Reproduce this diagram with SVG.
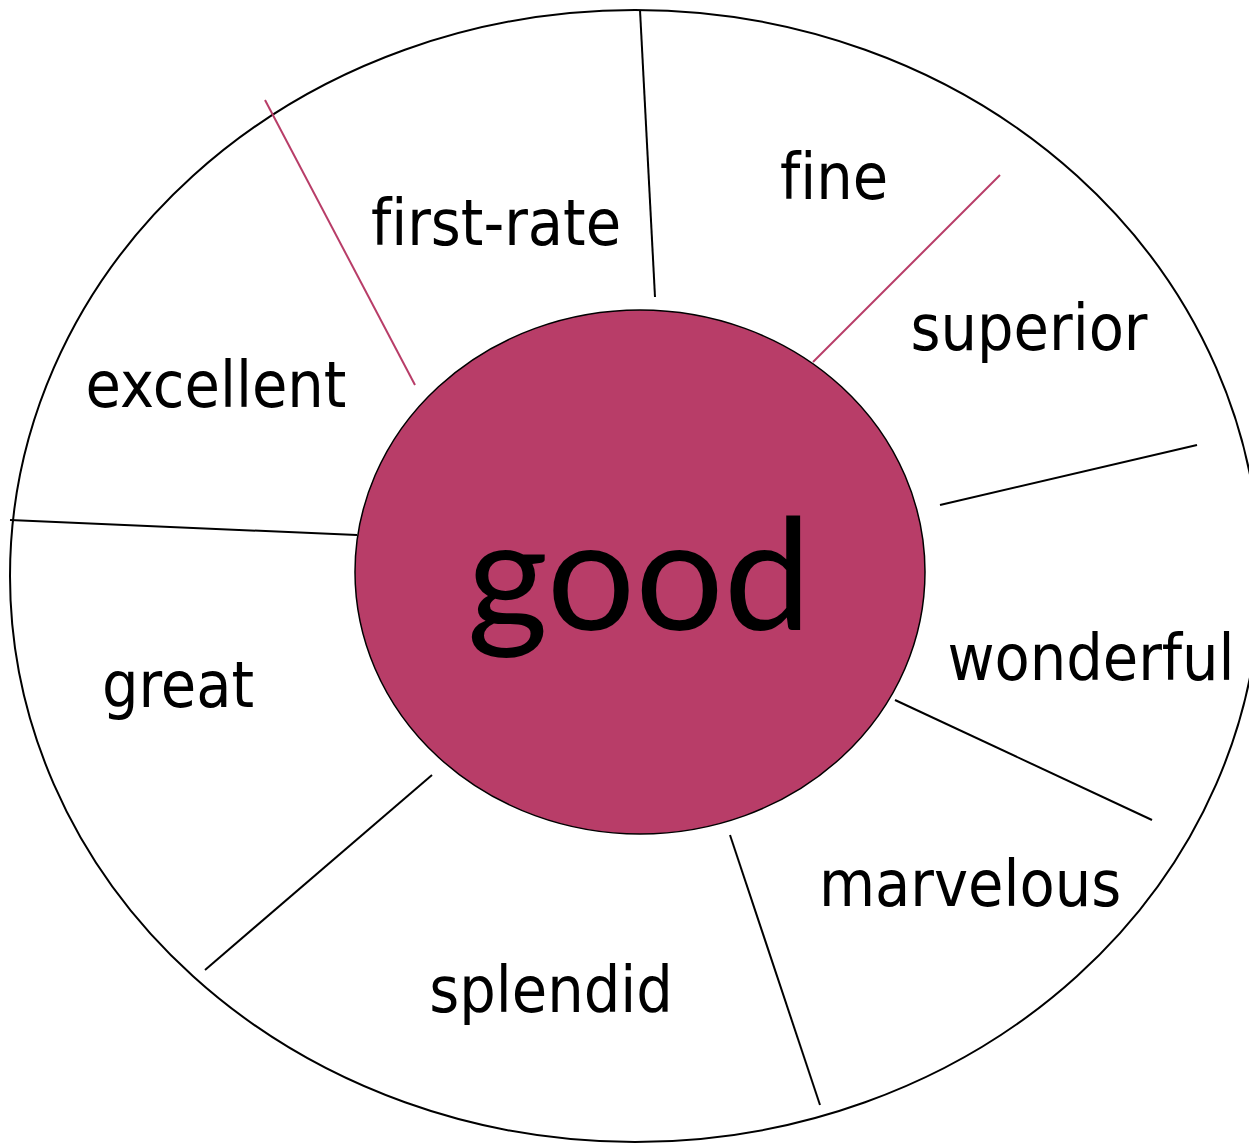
<svg xmlns="http://www.w3.org/2000/svg" width="1249" height="1143" viewBox="0 0 1249 1143">
<style>
.lbl{font-family:"DejaVu Sans Condensed","DejaVu Sans","Liberation Sans",sans-serif;font-stretch:condensed;font-size:64px;fill:#000;text-anchor:middle;font-variant-ligatures:none}
.c{stroke:#000;stroke-width:2;fill:none}
.r{stroke:#b83d68;stroke-width:2;fill:none}
</style>
<rect width="1249" height="1143" fill="#fff"/>
<g id="outer"><ellipse cx="635" cy="576" rx="625" ry="566" fill="#fff" stroke="#000" stroke-width="2"/></g>
<g id="connectors">
<line class="c" x1="640" y1="10" x2="655" y2="297"/>
<line class="r" x1="265" y1="100" x2="415" y2="385"/>
<line class="r" x1="1000" y1="175" x2="813" y2="362"/>
<line class="c" x1="1197" y1="445" x2="940" y2="505"/>
<line class="c" x1="10" y1="520" x2="357" y2="535"/>
<line class="c" x1="895" y1="700" x2="1152" y2="820"/>
<line class="c" x1="432" y1="775" x2="205" y2="970"/>
<line class="c" x1="730" y1="835" x2="820" y2="1105"/>
</g>
<g id="center"><ellipse cx="640" cy="572" rx="285" ry="262" fill="#b83d68" stroke="#000" stroke-width="1.5"/>
<text x="639" y="630" style="font-family:Lato,sans-serif;font-size:156px;text-anchor:middle">good</text></g>
<g id="first-rate"><text class="lbl" x="496" y="245">first-rate</text></g>
<g id="fine"><text class="lbl" x="834" y="199">fine</text></g>
<g id="superior"><text class="lbl" x="1029" y="350">superior</text></g>
<g id="excellent"><text class="lbl" x="216" y="407">excellent</text></g>
<g id="wonderful"><text class="lbl" x="1091" y="680">wonderful</text></g>
<g id="great"><text class="lbl" x="178" y="707">great</text></g>
<g id="marvelous"><text class="lbl" x="970" y="906">marvelous</text></g>
<g id="splendid"><text class="lbl" x="551" y="1012">splendid</text></g>
</svg>
